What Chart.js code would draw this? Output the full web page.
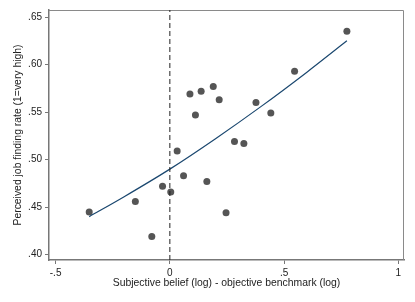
<!DOCTYPE html>
<html>
<head>
<meta charset="utf-8">
<script src="https://cdn.jsdelivr.net/npm/chart.js@4/dist/chart.umd.min.js"></script>
<style>
  html, body { margin: 0; padding: 0; background: #fff; }
  #wrap { width: 415px; height: 302px; }
</style>
</head>
<body>
<div id="wrap"><canvas id="chart" width="415" height="302"></canvas></div>
<script>
// scatter: subjective belief gap (x) vs perceived job finding rate (y)
var gapX = [-0.353, -0.151, -0.079, -0.032, 0.004, 0.032, 0.060, 0.088, 0.112, 0.137,
            0.162, 0.190, 0.216, 0.246, 0.283, 0.324, 0.377, 0.442, 0.546, 0.775];
var rateY = [0.445, 0.456, 0.419, 0.472, 0.466, 0.509, 0.483, 0.569, 0.547, 0.572,
             0.477, 0.577, 0.563, 0.444, 0.519, 0.517, 0.560, 0.549, 0.593, 0.635];

// fitted curve
var fitX = [-0.353, -0.2, 0, 0.2, 0.4, 0.6, 0.775];
var fitY = [0.440, 0.461, 0.490, 0.522, 0.556, 0.592, 0.625];

var refX = 0;

var xTicks = [-0.5, 0, 0.5, 1];
var xTickLabels = ['-.5', '0', '.5', '1'];
var yTicks = [0.40, 0.45, 0.50, 0.55, 0.60, 0.65];
var yTickLabels = ['.40', '.45', '.50', '.55', '.60', '.65'];

var xRange = [-0.529, 1.025];
var yRange = [0.3944, 0.6574];

function toPoints(xs, ys) {
    return xs.map(function(v, i) { return {x: v, y: ys[i]}; });
}

var framePlugin = {
    id: 'frame',
    beforeDatasetsDraw: function(chart) {
        var a = chart.chartArea, ctx = chart.ctx;
        ctx.save();
        ctx.strokeStyle = '#8a8a8a';
        ctx.lineWidth = 1;
        ctx.beginPath();
        ctx.moveTo(a.left, a.top + 0.5);
        ctx.lineTo(a.right - 0.5, a.top + 0.5);
        ctx.lineTo(a.right - 0.5, a.bottom);
        ctx.stroke();
        ctx.restore();
    }
};

var font = { family: '"Liberation Sans", Arial, sans-serif', size: 10 };
var titleFont = { family: '"Liberation Sans", Arial, sans-serif', size: 10.4 };

new Chart(document.getElementById('chart'), {
    type: 'scatter',
    data: {
        datasets: [{
            type: 'line',
            data: [{x: refX, y: yRange[0]}, {x: refX, y: yRange[1]}],
            borderColor: '#222',
            borderWidth: 1,
            borderDash: [5, 3],
            pointRadius: 0,
            fill: false
        }, {
            type: 'line',
            data: toPoints(fitX, fitY),
            borderColor: '#1a476f',
            borderWidth: 1.2,
            pointRadius: 0,
            cubicInterpolationMode: 'monotone',
            fill: false
        }, {
            data: toPoints(gapX, rateY),
            backgroundColor: '#555',
            borderColor: '#555',
            borderWidth: 0,
            pointRadius: 3.5
        }]
    },
    options: {
        responsive: false,
        animation: false,
        events: [],
        layout: { padding: { left: 0, top: 10, right: 11, bottom: 0 } },
        plugins: { legend: { display: false }, tooltip: { enabled: false } },
        scales: {
            x: {
                type: 'linear',
                min: xRange[0], max: xRange[1],
                afterBuildTicks: function(s) { s.ticks = xTicks.map(function(v) { return {value: v}; }); },
                afterFit: function(s) { s.height = 42; },
                ticks: {
                    color: '#222', font: font, padding: 3, maxRotation: 0,
                    callback: function(v, i) { return xTickLabels[i]; }
                },
                grid: { drawOnChartArea: false, drawTicks: true, tickLength: 4, color: '#777' },
                border: { color: '#777', width: 1.5 },
                title: {
                    display: true, text: 'Subjective belief (log) - objective benchmark (log)',
                    color: '#222', font: titleFont, padding: { top: 0, bottom: 13 }
                }
            },
            y: {
                type: 'linear',
                min: yRange[0], max: yRange[1],
                afterBuildTicks: function(s) { s.ticks = yTicks.map(function(v) { return {value: v}; }); },
                afterFit: function(s) { s.width = 49; },
                ticks: {
                    color: '#222', font: font, padding: 3,
                    callback: function(v, i) { return yTickLabels[i]; }
                },
                grid: { drawOnChartArea: false, drawTicks: true, tickLength: 4, color: '#777' },
                border: { color: '#777', width: 1.5 },
                title: {
                    display: true, text: 'Perceived job finding rate (1=very high)',
                    color: '#222', font: titleFont, padding: { top: 12, bottom: 0 }
                }
            }
        }
    },
    plugins: [framePlugin]
});
</script>
</body>
</html>
